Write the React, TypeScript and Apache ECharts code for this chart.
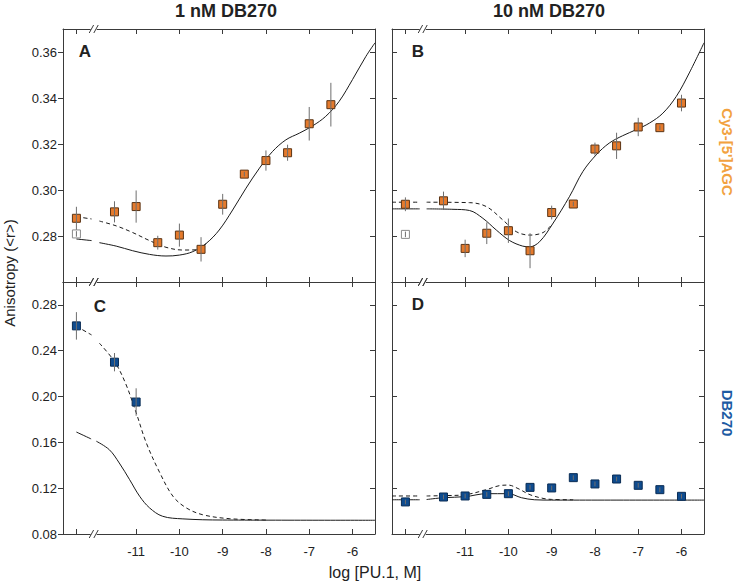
import React, { useEffect, useRef } from "react";
import * as echarts from "echarts";

// ---- axes ----
const X_MIN = -12.69;
const X_MAX = -5.48;
const ZERO_X = -12.38; // position of the "no PU.1" point left of the axis break
const BREAK_X = -11.98;
const xTickValues = [ZERO_X, -11, -10, -9, -8, -7, -6];
const xLabelValues = [-11, -10, -9, -8, -7, -6];
const yTopTicks = [0.28, 0.3, 0.32, 0.34, 0.36];
const yBottomTicks = [0.08, 0.12, 0.16, 0.2, 0.24, 0.28];

// ---- Panel A: Cy3-[5']AGC, 1 nM DB270 ----
const aX = [ZERO_X, -11.5, -11, -10.5, -10, -9.5, -9, -8.5, -8, -7.5, -7, -6.5];
const aY = [0.2877, 0.2905, 0.2928, 0.2771, 0.2804, 0.2742, 0.2938, 0.3069, 0.3128, 0.3162, 0.3288, 0.3371];
const aErr = [0.005, 0.0046, 0.007, 0.003, 0.005, 0.0053, 0.0045, 0.001, 0.0044, 0.0035, 0.0073, 0.0095];
const aOpenY = 0.2809;
const aSolidX = [ZERO_X, -12.03, -11.95, -11.85, -11.46, -11.08, -10.69, -10.31, -10, -9.69, -9.38, -9.08, -8.77, -8.46, -8.15, -7.85, -7.54, -7.23, -6.92, -6.62, -6.31, -6, -5.69, -5.48];
const aSolidY = [0.2787, 0.278, null, 0.2771, 0.2756, 0.2736, 0.272, 0.2713, 0.2717, 0.2732, 0.2768, 0.2826, 0.2913, 0.3008, 0.3095, 0.3167, 0.3218, 0.3247, 0.3279, 0.332, 0.3385, 0.348, 0.3581, 0.364];
const aDashX = [ZERO_X, -12.03, -11.95, -11.85, -11.46, -11.08, -10.69, -10.31, -9.92, -9.54, -9.38];
const aDashY = [0.2884, 0.2874, null, 0.2865, 0.2844, 0.2815, 0.278, 0.2751, 0.2739, 0.2741, 0.2768];

// ---- Panel B: Cy3-[5']AGC, 10 nM DB270 ----
const bX = [ZERO_X, -11.5, -11, -10.5, -10, -9.5, -9, -8.5, -8, -7.5, -7, -6.5, -6];
const bY = [0.2938, 0.2953, 0.2746, 0.2812, 0.2823, 0.2736, 0.2902, 0.2939, 0.3178, 0.3192, 0.3274, 0.3271, 0.3378];
const bErr = [0.003, 0.004, 0.0038, 0.0047, 0.0053, 0.0076, 0.003, 0.001, 0.0028, 0.0057, 0.004, 0.001, 0.0036];
const bOpenY = 0.2807;
const bSolidX = [X_MIN, -12.05, -11.95, -11.89, -11.28, -10.9, -10.59, -10.28, -9.97, -9.67, -9.51, -9.28, -8.97, -8.59, -8.28, -7.97, -7.67, -7.36, -7.05, -6.74, -6.43, -6.12, -5.82, X_MAX];
const bSolidY = [0.2918, 0.2918, null, 0.2918, 0.2916, 0.2911, 0.2877, 0.2826, 0.278, 0.2756, 0.2753, 0.2775, 0.2855, 0.2971, 0.308, 0.3153, 0.3204, 0.3236, 0.3262, 0.3291, 0.3334, 0.3407, 0.3509, 0.364];
const bDashX = [X_MIN, -12.05, -11.95, -11.89, -10.9, -10.51, -10.13, -9.82, -9.51, -9.2, -8.97];
const bDashY = [0.2947, 0.2947, null, 0.2947, 0.2945, 0.2928, 0.287, 0.2819, 0.2804, 0.2815, 0.2855];

// ---- Panel C: DB270, 1 nM DB270 ----
const cX = [ZERO_X, -11.5, -11];
const cY = [0.2617, 0.23, 0.1952];
const cErr = [0.012, 0.008, 0.012];
const cSolidX = [ZERO_X, -12.04, -11.95, -11.92, -11.62, -11.39, -11.15, -10.92, -10.69, -10.39, -9.92, -9.0, X_MAX];
const cSolidY = [0.169, 0.163, null, 0.161, 0.1536, 0.142, 0.1274, 0.113, 0.1028, 0.0955, 0.0932, 0.0922, 0.092];
const cDashX = [ZERO_X, -12.03, -11.95, -11.85, -11.5, -11.25, -11.0, -10.77, -10.46, -10.15, -9.85, -9.47, -8.85, -8.0];
const cDashY = [0.2614, 0.2538, null, 0.2466, 0.2306, 0.212, 0.186, 0.16, 0.134, 0.113, 0.103, 0.0969, 0.0934, 0.0922];

// ---- Panel D: DB270, 10 nM DB270 ----
const dX = [ZERO_X, -11.5, -11, -10.5, -10, -9.5, -9, -8.5, -8, -7.5, -7, -6.5, -6];
const dY = [0.108, 0.1123, 0.1132, 0.1146, 0.1152, 0.1207, 0.1202, 0.1292, 0.1237, 0.128, 0.1225, 0.1187, 0.1129];
const dErr = [0.002, 0.002, 0.002, 0.002, 0.002, 0.002, 0.002, 0.002, 0.002, 0.002, 0.002, 0.002, 0.002];
const dSolidX = [X_MIN, -12.05, -11.95, -11.89, -11.5, -11, -10.5, -10, -9.7, -9.4, -9, X_MAX];
const dSolidY = [0.1099, 0.1099, null, 0.1101, 0.1117, 0.1126, 0.1152, 0.1152, 0.1117, 0.1099, 0.1096, 0.1096];
const dDashX = [X_MIN, -12.05, -11.95, -11.89, -11.5, -11, -10.51, -10.21, -10, -9.8, -9.5, -9.2, -9, -8.5];
const dDashY = [0.1132, 0.1132, null, 0.1132, 0.1135, 0.1143, 0.1187, 0.1222, 0.1227, 0.1201, 0.1143, 0.1111, 0.1102, 0.1099];

const FONT = "'Liberation Sans', Arial, Helvetica, sans-serif";
const FRAME = "#3a3a3a";
const ORANGE = "#e57a2c";
const ORANGE_EDGE = "#5b3414";
const BLUE = "#0f4c8f";
const BLUE_EDGE = "#0a2d55";

const GRIDS = [
  { left: 63, top: 29, width: 312, height: 253 }, // A
  { left: 392, top: 29, width: 312, height: 253 }, // B
  { left: 63, top: 282, width: 312, height: 252 }, // C
  { left: 392, top: 282, width: 312, height: 252 }, // D
];

const pairs = (xs: number[], ys: (number | null)[]) =>
  xs.map((x, i) => [x, ys[i] === null ? "-" : ys[i]]);
const triples = (xs: number[], ys: number[], es: number[]) =>
  xs.map((x, i) => [x, ys[i], es[i]]);

export default function App() {
  const ref = useRef<HTMLDivElement>(null);

  useEffect(() => {
    if (!ref.current) return;
    const chart = echarts.init(ref.current, undefined, { renderer: "svg" });

    const xAxes: any[] = [];
    const yAxes: any[] = [];
    GRIDS.forEach((_, gi) => {
      const bottomRow = gi >= 2;
      const leftCol = gi % 2 === 0;
      const common = {
        gridIndex: gi,
        type: "value",
        min: X_MIN,
        max: X_MAX,
        splitLine: { show: false },
        axisLine: { show: true, onZero: false, lineStyle: { color: FRAME, width: 1 } },
        axisTick: {
          show: true,
          inside: true,
          length: 5,
          customValues: xTickValues,
          lineStyle: { color: FRAME, width: 1 },
        },
      };
      xAxes.push({
        ...common,
        position: "bottom",
        axisLabel: {
          show: bottomRow,
          customValues: xLabelValues,
          fontSize: 13,
          color: "#222",
          fontFamily: FONT,
          margin: 11,
          formatter: (v: number) => String(Math.round(v)),
        },
      });
      xAxes.push({ ...common, position: "top", axisLabel: { show: false } });

      const yMin = bottomRow ? 0.08 : 0.26;
      const yMax = bottomRow ? 0.3 : 0.37;
      const yInterval = bottomRow ? 0.04 : 0.02;
      const ticks = bottomRow ? yBottomTicks : yTopTicks;
      const yCommon = {
        gridIndex: gi,
        type: "value",
        min: yMin,
        max: yMax,
        interval: yInterval,
        splitLine: { show: false },
        axisLine: { show: true, onZero: false, lineStyle: { color: FRAME, width: 1 } },
      };
      yAxes.push({
        ...yCommon,
        position: "left",
        axisTick: {
          show: true,
          inside: !leftCol,
          length: 5,
          customValues: ticks,
          lineStyle: { color: FRAME, width: 1 },
        },
        axisLabel: {
          show: leftCol,
          customValues: ticks,
          fontSize: 13,
          color: "#222",
          fontFamily: FONT,
          margin: 6,
          formatter: (v: number) => v.toFixed(2),
        },
      });
      yAxes.push({
        ...yCommon,
        position: "right",
        axisTick: {
          show: true,
          inside: true,
          length: 5,
          customValues: ticks,
          lineStyle: { color: FRAME, width: 1 },
        },
        axisLabel: { show: false },
      });
    });

    const errSeries = (gi: number, data: number[][]) => ({
      type: "custom",
      xAxisIndex: gi * 2,
      yAxisIndex: gi * 2,
      z: 5,
      data,
      encode: { x: 0, y: 1 },
      renderItem: (_p: any, api: any) => {
        const x = api.value(0);
        const y = api.value(1);
        const e = api.value(2);
        const p1 = api.coord([x, y - e]);
        const p2 = api.coord([x, y + e]);
        return {
          type: "line",
          shape: { x1: p1[0], y1: p1[1], x2: p2[0], y2: p2[1] },
          style: { stroke: "#6e6e6e", lineWidth: 1 },
        };
      },
    });
    const lineSeries = (gi: number, data: any[], dashed: boolean) => ({
      type: "line",
      xAxisIndex: gi * 2,
      yAxisIndex: gi * 2,
      data,
      showSymbol: false,
      symbol: "none",
      smooth: 0.35,
      connectNulls: false,
      z: 2,
      lineStyle: { color: "#1a1a1a", width: 1, type: dashed ? [4, 3] : "solid" },
    });
    const scatterSeries = (gi: number, data: number[][], fill: string, edge: string) => ({
      type: "scatter",
      xAxisIndex: gi * 2,
      yAxisIndex: gi * 2,
      data,
      symbol: "rect",
      symbolSize: 8,
      z: 4,
      itemStyle: { color: fill, borderColor: edge, borderWidth: 1, opacity: 1 },
    });

    const series: any[] = [
      // A
      lineSeries(0, pairs(aSolidX, aSolidY), false),
      lineSeries(0, pairs(aDashX, aDashY), true),
      scatterSeries(0, aX.map((x, i) => [x, aY[i]]), ORANGE, ORANGE_EDGE),
      scatterSeries(0, [[ZERO_X, aOpenY]], "#ffffff", "#8a8a8a"),
      errSeries(0, triples(aX, aY, aErr)),
      errSeries(0, [[ZERO_X, aOpenY, 0.0012]]),
      // B
      lineSeries(1, pairs(bSolidX, bSolidY), false),
      lineSeries(1, pairs(bDashX, bDashY), true),
      scatterSeries(1, bX.map((x, i) => [x, bY[i]]), ORANGE, ORANGE_EDGE),
      scatterSeries(1, [[ZERO_X, bOpenY]], "#ffffff", "#8a8a8a"),
      errSeries(1, triples(bX, bY, bErr)),
      errSeries(1, [[ZERO_X, bOpenY, 0.0012]]),
      // C
      lineSeries(2, pairs(cSolidX, cSolidY), false),
      lineSeries(2, pairs(cDashX, cDashY), true),
      scatterSeries(2, cX.map((x, i) => [x, cY[i]]), BLUE, BLUE_EDGE),
      errSeries(2, triples(cX, cY, cErr)),
      // D
      lineSeries(3, pairs(dSolidX, dSolidY), false),
      lineSeries(3, pairs(dDashX, dDashY), true),
      scatterSeries(3, dX.map((x, i) => [x, dY[i]]), BLUE, BLUE_EDGE),
      errSeries(3, triples(dX, dY, dErr)),
    ];

    const txt = (text: string, x: number, y: number, opts: any = {}) => ({
      type: "text",
      x,
      y,
      rotation: opts.rotation || 0,
      z: 10,
      style: {
        text,
        fill: opts.color || "#222",
        font: `${opts.bold ? "bold " : ""}${opts.size || 13}px ${FONT}`,
        align: "center",
        verticalAlign: "middle",
      },
    });

    const labels: any[] = [
      txt("1 nM DB270", 226, 11, { bold: true, size: 18 }),
      txt("10 nM DB270", 549, 11, { bold: true, size: 18 }),
      txt("A", 85, 51, { bold: true, size: 17 }),
      txt("B", 418, 51, { bold: true, size: 17 }),
      txt("C", 100, 306, { bold: true, size: 17 }),
      txt("D", 418, 304, { bold: true, size: 17 }),
      txt("Anisotropy (<r>)", 9, 273, { size: 15, rotation: Math.PI / 2 }),
      txt("log [PU.1, M]", 375, 572, { size: 16 }),
      txt("Cy3-[5']AGC", 727, 152, { bold: true, size: 15, color: "#f2a23f", rotation: -Math.PI / 2 }),
      txt("DB270", 727, 413, { bold: true, size: 15, color: "#1d5ba3", rotation: -Math.PI / 2 }),
    ];

    chart.setOption({
      animation: false,
      backgroundColor: "#ffffff",
      textStyle: { fontFamily: FONT },
      grid: GRIDS.map((g) => ({ ...g, containLabel: false })),
      xAxis: xAxes,
      yAxis: yAxes,
      series,
      graphic: labels,
    });

    // axis-break marks "//" at top and bottom of each panel
    const breaks: any[] = [];
    GRIDS.forEach((g, gi) => {
      const p = chart.convertToPixel({ xAxisIndex: gi * 2, yAxisIndex: gi * 2 }, [BREAK_X, 0]) as number[];
      const cx = p[0];
      [g.top, g.top + g.height].forEach((yy) => {
        breaks.push({
          type: "rect",
          z: 9,
          shape: { x: cx - 3, y: yy - 1, width: 6, height: 2 },
          style: { fill: "#ffffff" },
        });
        [-2.3, 2.3].forEach((off) => {
          breaks.push({
            type: "line",
            z: 10,
            shape: { x1: cx + off - 2.2, y1: yy + 4, x2: cx + off + 2.2, y2: yy - 4 },
            style: { stroke: FRAME, lineWidth: 1 },
          });
        });
      });
    });
    chart.setOption({ graphic: [...labels, ...breaks] });

    return () => chart.dispose();
  }, []);

  return (
    <div
      ref={ref}
      style={{ position: "fixed", left: 0, top: 0, width: 736, height: 583, background: "#fff" }}
    />
  );
}
